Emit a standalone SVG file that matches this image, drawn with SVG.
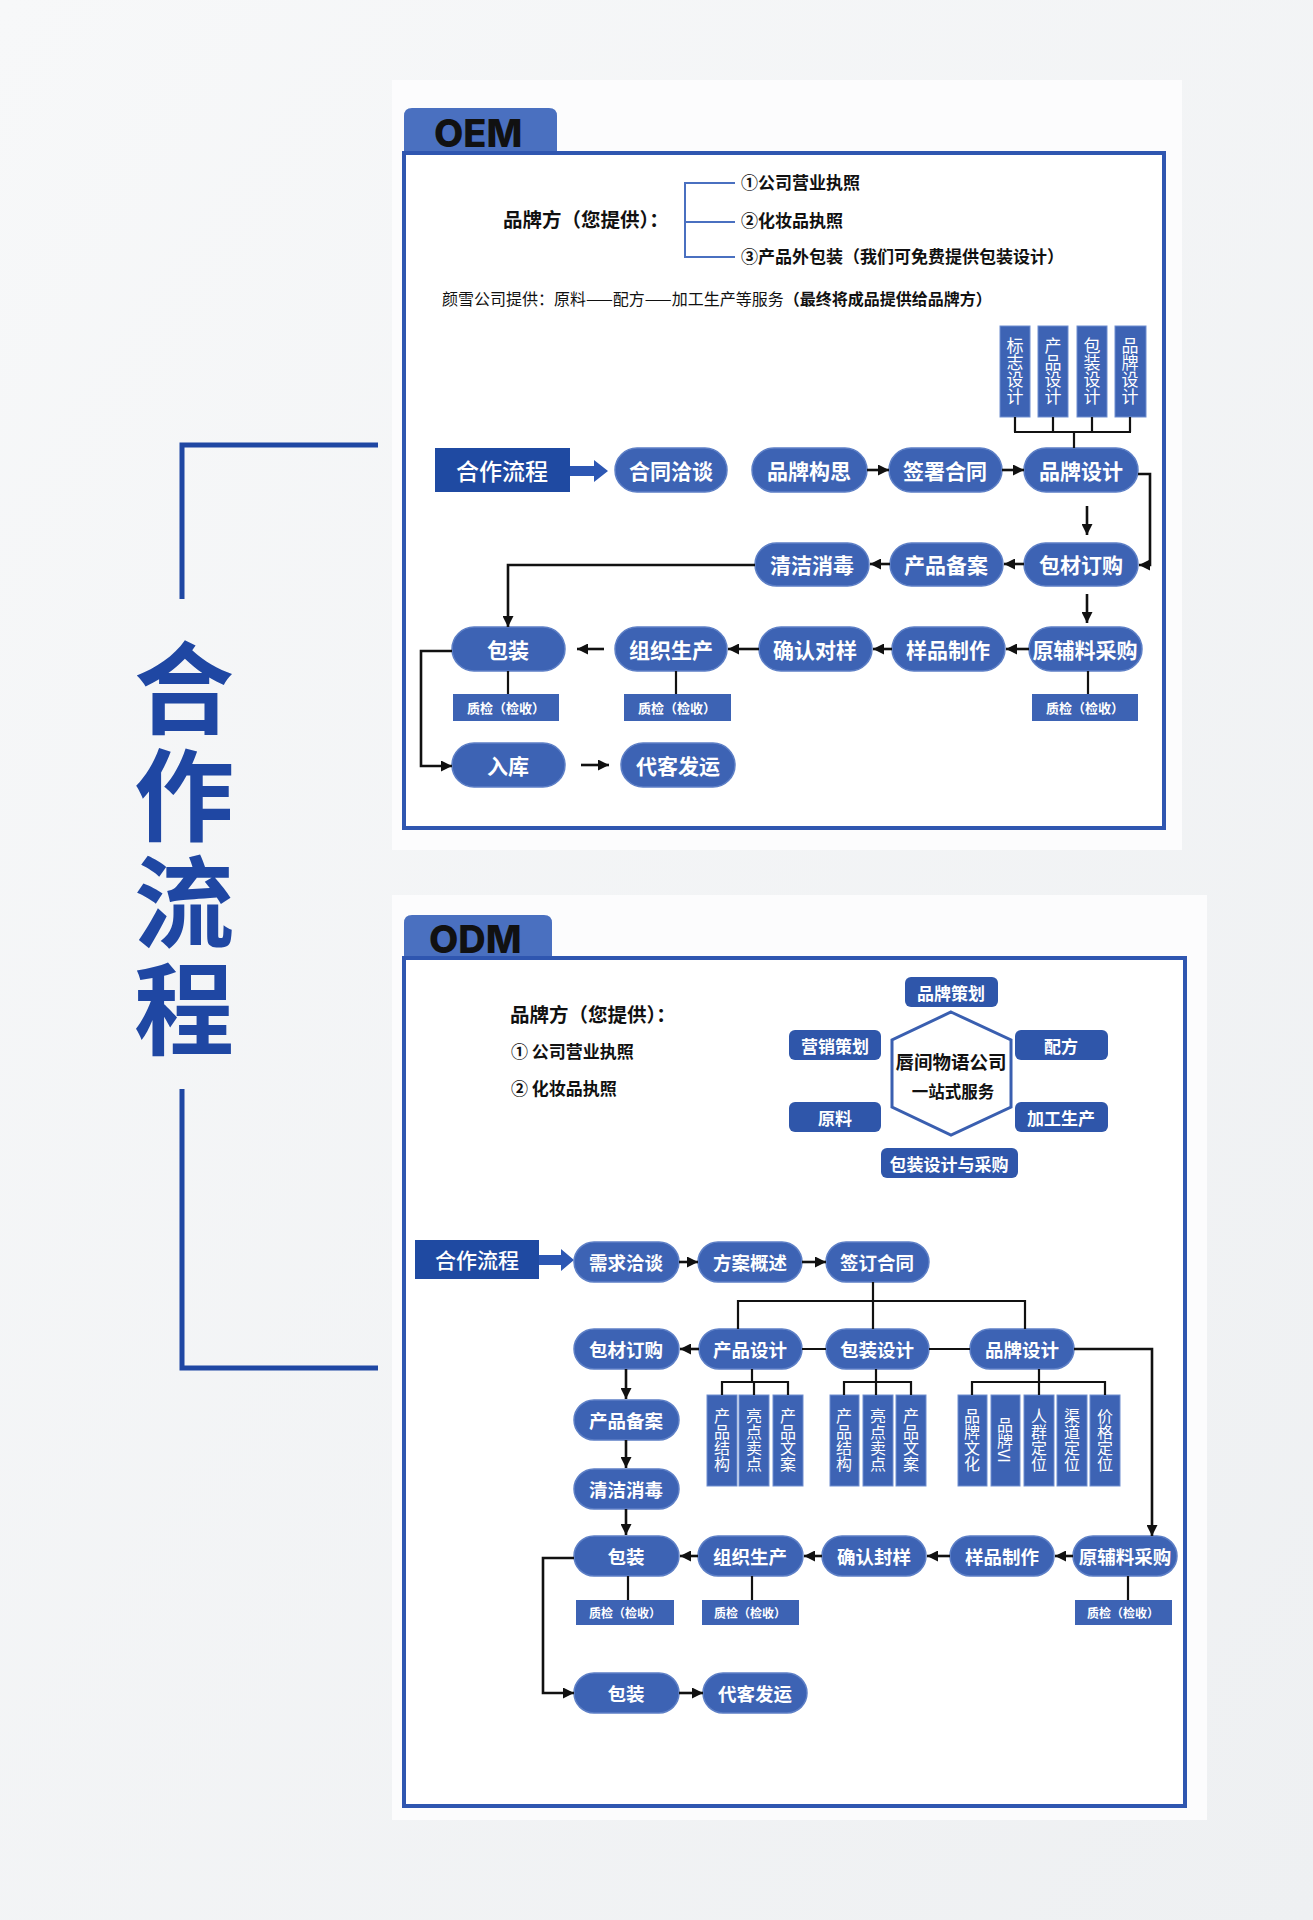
<svg xmlns="http://www.w3.org/2000/svg" width="1313" height="1920" viewBox="0 0 1313 1920">
<defs>
<linearGradient id="bg" x1="0" y1="0" x2="1" y2="1">
<stop offset="0" stop-color="#f7f8f9"/><stop offset="1" stop-color="#eef0f2"/>
</linearGradient>
<marker id="ah" viewBox="0 0 10 10" refX="10" refY="5" markerWidth="11" markerHeight="11" markerUnits="userSpaceOnUse" orient="auto">
<path d="M0,0 L10,5 L0,10 z" fill="#111"/>
</marker>
<style>
.cjk{font-family:"Noto Sans CJK SC","Noto Sans",sans-serif}
.pill rect{fill:#3d63b4;stroke:#5d7fc6;stroke-width:1.5}
.pill text{font-family:"Noto Sans CJK SC",sans-serif;font-weight:700;fill:#fff;text-anchor:middle;dominant-baseline:central}
.p1 text{font-size:21px}
.p2 text{font-size:18.5px}
.qc rect{fill:#3d63b4}
.qc text{font-family:"Noto Sans CJK SC",sans-serif;font-weight:700;fill:#fff;text-anchor:middle;dominant-baseline:central;font-size:13px}
.vb rect{fill:#3d63b4;stroke:#6f8ecf;stroke-width:1}
.vb text{font-family:"Noto Sans CJK SC",sans-serif;fill:#fff;text-anchor:middle;writing-mode:vertical-rl;font-size:17px}
.svc rect{fill:#2f56aa}
.svc text{font-family:"Noto Sans CJK SC",sans-serif;font-weight:700;fill:#fff;text-anchor:middle;dominant-baseline:central;font-size:17px}
.ln{fill:none;stroke:#111;stroke-width:2.2}
.ar{fill:none;stroke:#111;stroke-width:2.6;marker-end:url(#ah)}
.frame{fill:#fff;stroke:#2f56b0;stroke-width:4}
.tab{fill:#4a70c0}
.tabtxt{font-family:Inter,"Noto Sans",sans-serif;font-weight:800;font-size:38px;fill:#111}
.head{fill:#1f4aa2}
.headtxt{font-family:"Noto Sans CJK SC",sans-serif;font-weight:500;fill:#fff;text-anchor:middle;dominant-baseline:central}
.big{fill:#2d57b3}
.info{font-family:"Noto Sans CJK SC",sans-serif;fill:#111}
</style>
</defs>

<rect x="0" y="0" width="1313" height="1920" fill="url(#bg)"/>
<rect x="392" y="80" width="790" height="770" fill="#fcfcfd"/>
<rect x="392" y="895" width="815" height="925" fill="#fcfcfd"/>

<!-- left title bracket -->
<g id="title">
<path d="M378,445 H182 V599" fill="none" stroke="#1f47a3" stroke-width="5"/>
<path d="M182,1089 V1368 H378" fill="none" stroke="#1f47a3" stroke-width="5"/>
<text x="184" y="638" font-family="Noto Sans CJK SC,sans-serif" font-weight="700" font-size="100" fill="#1f47a3" letter-spacing="7" style="writing-mode:vertical-rl">合作流程</text>
</g>

<!-- ================= OEM ================= -->
<g id="oem-frame">
<path class="tab" d="M404,160 V116 Q404,108 412,108 H549 Q557,108 557,116 V160 z"/>
<text class="tabtxt" x="434" y="147">OEM</text>
<rect class="frame" x="404" y="153" width="760" height="675"/>
</g>

<g id="oem-info">
<path d="M735,183 H685 V257 H735 M685,222 H735" fill="none" stroke="#4a70c0" stroke-width="2"/>
<text class="info" x="503" y="227" font-size="19.5" font-weight="700">品牌方（您提供）：</text>
<text class="info" x="741" y="189" font-size="17" font-weight="700">①公司营业执照</text>
<text class="info" x="741" y="227" font-size="17" font-weight="700">②化妆品执照</text>
<text class="info" x="741" y="263" font-size="17" font-weight="700">③产品外包装（我们可免费提供包装设计）</text>
<text class="info" x="442" y="305" font-size="16">颜雪公司提供：原料——配方——加工生产等服务<tspan font-weight="700">（最终将成品提供给品牌方）</tspan></text>
</g>

<g id="oem-head"><rect class="head" x="435" y="448" width="135" height="44"/><text class="headtxt" x="502" y="470" font-size="23">合作流程</text></g>
<g id="oem-bigarrow"><path class="big" d="M570,466 H594 V460 L608,471 L594,482 V476 H570 z"/></g>

<g id="oem-n1" class="pill p1"><rect x="615" y="448" width="112" height="44" rx="22"/><text x="671" y="470">合同洽谈</text></g>
<g id="oem-n2" class="pill p1"><rect x="752" y="448" width="115" height="44" rx="22"/><text x="809" y="470">品牌构思</text></g>
<g id="oem-n3" class="pill p1"><rect x="889" y="448" width="113" height="44" rx="22"/><text x="945" y="470">签署合同</text></g>
<g id="oem-n4" class="pill p1"><rect x="1024" y="448" width="114" height="44" rx="22"/><text x="1081" y="470">品牌设计</text></g>

<g id="oem-v1" class="vb"><rect x="1000" y="326" width="30" height="91"/><text x="1015" y="371">标志设计</text></g>
<g id="oem-v2" class="vb"><rect x="1038" y="326" width="30" height="91"/><text x="1053" y="371">产品设计</text></g>
<g id="oem-v3" class="vb"><rect x="1077" y="326" width="30" height="91"/><text x="1092" y="371">包装设计</text></g>
<g id="oem-v4" class="vb"><rect x="1115" y="326" width="31" height="91"/><text x="1130" y="371">品牌设计</text></g>

<g id="oem-n5" class="pill p1"><rect x="755" y="543" width="114" height="43" rx="21.5"/><text x="812" y="564">清洁消毒</text></g>
<g id="oem-n6" class="pill p1"><rect x="890" y="543" width="113" height="43" rx="21.5"/><text x="946" y="564">产品备案</text></g>
<g id="oem-n7" class="pill p1"><rect x="1024" y="543" width="114" height="43" rx="21.5"/><text x="1081" y="564">包材订购</text></g>

<g id="oem-n8" class="pill p1"><rect x="452" y="627" width="113" height="44" rx="22"/><text x="508" y="649">包装</text></g>
<g id="oem-n9" class="pill p1"><rect x="615" y="627" width="112" height="44" rx="22"/><text x="671" y="649">组织生产</text></g>
<g id="oem-n10" class="pill p1"><rect x="759" y="627" width="113" height="44" rx="22"/><text x="815" y="649">确认对样</text></g>
<g id="oem-n11" class="pill p1"><rect x="892" y="627" width="113" height="44" rx="22"/><text x="948" y="649">样品制作</text></g>
<g id="oem-n12" class="pill p1"><rect x="1029" y="627" width="113" height="44" rx="22"/><text x="1085" y="649">原辅料采购</text></g>

<g id="oem-q1" class="qc"><rect x="453" y="694" width="106" height="27"/><text x="506" y="707">质检（检收）</text></g>
<g id="oem-q2" class="qc"><rect x="624" y="694" width="107" height="27"/><text x="677" y="707">质检（检收）</text></g>
<g id="oem-q3" class="qc"><rect x="1032" y="694" width="106" height="27"/><text x="1085" y="707">质检（检收）</text></g>

<g id="oem-n13" class="pill p1"><rect x="452" y="743" width="113" height="44" rx="22"/><text x="508" y="765">入库</text></g>
<g id="oem-n14" class="pill p1"><rect x="621" y="743" width="114" height="44" rx="22"/><text x="678" y="765">代客发运</text></g>

<!-- ================= ODM ================= -->
<g id="odm-frame">
<path class="tab" d="M404,965 V923 Q404,915 412,915 H544 Q552,915 552,923 V965 z"/>
<text class="tabtxt" x="429" y="953">ODM</text>
<rect class="frame" x="404" y="958" width="781" height="848"/>
</g>

<g id="odm-info">
<text class="info" x="510" y="1022" font-size="19.5" font-weight="700">品牌方（您提供）：</text>
<text class="info" x="511" y="1058" font-size="17" font-weight="700">① 公司营业执照</text>
<text class="info" x="511" y="1095" font-size="17" font-weight="700">② 化妆品执照</text>
</g>

<g id="odm-hex">
<path d="M951,1012 L1011,1040 L1011,1107 L951,1135 L892,1107 L892,1040 z" fill="#fff" stroke="#3a5fb0" stroke-width="3"/>
<text x="951" y="1069" class="info" font-size="18.5" font-weight="700" text-anchor="middle">唇间物语公司</text>
<text x="953" y="1098" class="info" font-size="16.5" font-weight="700" text-anchor="middle">一站式服务</text>
</g>
<g id="odm-s1" class="svc"><rect x="905" y="977" width="93" height="30" rx="6"/><text x="951" y="992">品牌策划</text></g>
<g id="odm-s2" class="svc"><rect x="789" y="1030" width="92" height="30" rx="6"/><text x="835" y="1045">营销策划</text></g>
<g id="odm-s3" class="svc"><rect x="1015" y="1030" width="93" height="30" rx="6"/><text x="1061" y="1045">配方</text></g>
<g id="odm-s4" class="svc"><rect x="789" y="1102" width="92" height="30" rx="6"/><text x="835" y="1117">原料</text></g>
<g id="odm-s5" class="svc"><rect x="1015" y="1102" width="93" height="30" rx="6"/><text x="1061" y="1117">加工生产</text></g>
<g id="odm-s6" class="svc"><rect x="881" y="1148" width="137" height="30" rx="6"/><text x="949" y="1163">包装设计与采购</text></g>

<g id="odm-head"><rect class="head" x="415" y="1240" width="124" height="39"/><text class="headtxt" x="477" y="1259" font-size="21">合作流程</text></g>
<g id="odm-bigarrow"><path class="big" d="M539,1255 H561 V1249 L574,1260 L561,1271 V1265 H539 z"/></g>

<g id="odm-n1" class="pill p2"><rect x="574" y="1242" width="105" height="40" rx="20"/><text x="626" y="1262">需求洽谈</text></g>
<g id="odm-n2" class="pill p2"><rect x="698" y="1242" width="104" height="40" rx="20"/><text x="750" y="1262">方案概述</text></g>
<g id="odm-n3" class="pill p2"><rect x="826" y="1242" width="103" height="40" rx="20"/><text x="877" y="1262">签订合同</text></g>

<g id="odm-n4" class="pill p2"><rect x="574" y="1329" width="105" height="40" rx="20"/><text x="626" y="1349">包材订购</text></g>
<g id="odm-n5" class="pill p2"><rect x="699" y="1329" width="103" height="40" rx="20"/><text x="750" y="1349">产品设计</text></g>
<g id="odm-n6" class="pill p2"><rect x="826" y="1329" width="103" height="40" rx="20"/><text x="877" y="1349">包装设计</text></g>
<g id="odm-n7" class="pill p2"><rect x="970" y="1329" width="104" height="40" rx="20"/><text x="1022" y="1349">品牌设计</text></g>

<g id="odm-v1" class="vb"><rect x="707" y="1395" width="30" height="91"/><text x="722" y="1440" style="font-size:16px">产品结构</text></g>
<g id="odm-v2" class="vb"><rect x="739" y="1395" width="30" height="91"/><text x="754" y="1440" style="font-size:16px">亮点卖点</text></g>
<g id="odm-v3" class="vb"><rect x="773" y="1395" width="30" height="91"/><text x="788" y="1440" style="font-size:16px">产品文案</text></g>
<g id="odm-v4" class="vb"><rect x="830" y="1395" width="29" height="91"/><text x="844" y="1440" style="font-size:16px">产品结构</text></g>
<g id="odm-v5" class="vb"><rect x="863" y="1395" width="30" height="91"/><text x="878" y="1440" style="font-size:16px">亮点卖点</text></g>
<g id="odm-v6" class="vb"><rect x="896" y="1395" width="30" height="91"/><text x="911" y="1440" style="font-size:16px">产品文案</text></g>
<g id="odm-v7" class="vb"><rect x="958" y="1395" width="29" height="91"/><text x="972" y="1440" style="font-size:16px">品牌文化</text></g>
<g id="odm-v8" class="vb"><rect x="991" y="1395" width="29" height="91"/><text x="1005" y="1440" style="font-size:16px">品牌VI</text></g>
<g id="odm-v9" class="vb"><rect x="1024" y="1395" width="30" height="91"/><text x="1039" y="1440" style="font-size:16px">人群定位</text></g>
<g id="odm-v10" class="vb"><rect x="1057" y="1395" width="30" height="91"/><text x="1072" y="1440" style="font-size:16px">渠道定位</text></g>
<g id="odm-v11" class="vb"><rect x="1090" y="1395" width="30" height="91"/><text x="1105" y="1440" style="font-size:16px">价格定位</text></g>

<g id="odm-n8" class="pill p2"><rect x="574" y="1400" width="105" height="40" rx="20"/><text x="626" y="1420">产品备案</text></g>
<g id="odm-n9" class="pill p2"><rect x="574" y="1469" width="105" height="40" rx="20"/><text x="626" y="1489">清洁消毒</text></g>

<g id="odm-n10" class="pill p2"><rect x="574" y="1536" width="105" height="40" rx="20"/><text x="626" y="1556">包装</text></g>
<g id="odm-n11" class="pill p2"><rect x="698" y="1536" width="105" height="40" rx="20"/><text x="750" y="1556">组织生产</text></g>
<g id="odm-n12" class="pill p2"><rect x="822" y="1536" width="104" height="40" rx="20"/><text x="874" y="1556">确认封样</text></g>
<g id="odm-n13" class="pill p2"><rect x="950" y="1536" width="104" height="40" rx="20"/><text x="1002" y="1556">样品制作</text></g>
<g id="odm-n14" class="pill p2"><rect x="1073" y="1536" width="104" height="40" rx="20"/><text x="1125" y="1556">原辅料采购</text></g>

<g id="odm-q1" class="qc"><rect x="576" y="1600" width="98" height="25"/><text x="625" y="1612.5" style="font-size:12px">质检（检收）</text></g>
<g id="odm-q2" class="qc"><rect x="702" y="1600" width="97" height="25"/><text x="750" y="1612.5" style="font-size:12px">质检（检收）</text></g>
<g id="odm-q3" class="qc"><rect x="1075" y="1600" width="97" height="25"/><text x="1123" y="1612.5" style="font-size:12px">质检（检收）</text></g>

<g id="odm-n15" class="pill p2"><rect x="574" y="1673" width="105" height="40" rx="20"/><text x="626" y="1693">包装</text></g>
<g id="odm-n16" class="pill p2"><rect x="703" y="1673" width="104" height="40" rx="20"/><text x="755" y="1693">代客发运</text></g>

<!-- ================= connectors ================= -->
<g id="connectors">
<!-- OEM -->
<path class="ln" d="M1015,417 V432 M1053,417 V432 M1092,417 V432 M1130,417 V432 M1014,432 H1131 M1074,432 V448"/>
<path class="ar" d="M867,470 H889"/>
<path class="ar" d="M1002,470 H1024"/>
<path class="ar" d="M1138,474 H1150 V565 H1139"/>
<path class="ar" d="M1087,506 V535"/>
<path class="ar" d="M1024,564 H1004"/>
<path class="ar" d="M890,564 H870"/>
<path class="ar" d="M755,565 H508 V627"/>
<path class="ar" d="M1087,594 V623"/>
<path class="ar" d="M1029,649 H1006"/>
<path class="ar" d="M892,649 H873"/>
<path class="ar" d="M759,649 H728"/>
<path class="ar" d="M604,649 H577"/>
<path class="ln" d="M508,671 V694 M676,671 V694 M1088,671 V694"/>
<path class="ar" d="M452,651 H421 V766 H452"/>
<path class="ar" d="M581,765 H609"/>
<!-- ODM -->
<path class="ar" d="M679,1262 H698"/>
<path class="ar" d="M802,1262 H826"/>
<path class="ln" d="M873,1282 V1329 M738,1329 V1301 H1025 V1329"/>
<path class="ar" d="M699,1349 H680"/>
<path class="ln" d="M802,1349 H826 M929,1349 H970"/>
<path class="ar" d="M1074,1349 H1152 V1536"/>
<path class="ln" d="M752,1369 V1382 M722,1395 V1382 H788 V1395 M754,1382 V1395"/>
<path class="ln" d="M876,1369 V1395 M844,1395 V1382 H911 V1395"/>
<path class="ln" d="M1039,1369 V1395 M972,1395 V1382 H1105 V1395"/>
<path class="ar" d="M626,1369 V1399"/>
<path class="ar" d="M626,1440 V1468"/>
<path class="ar" d="M626,1509 V1535"/>
<path class="ar" d="M1073,1556 H1055"/>
<path class="ar" d="M950,1556 H927"/>
<path class="ar" d="M822,1556 H804"/>
<path class="ar" d="M698,1556 H680"/>
<path class="ln" d="M628,1576 V1600 M752,1576 V1600 M1128,1576 V1600"/>
<path class="ar" d="M574,1558 H543 V1693 H574"/>
<path class="ar" d="M679,1693 H703"/>
</g>
</svg>
